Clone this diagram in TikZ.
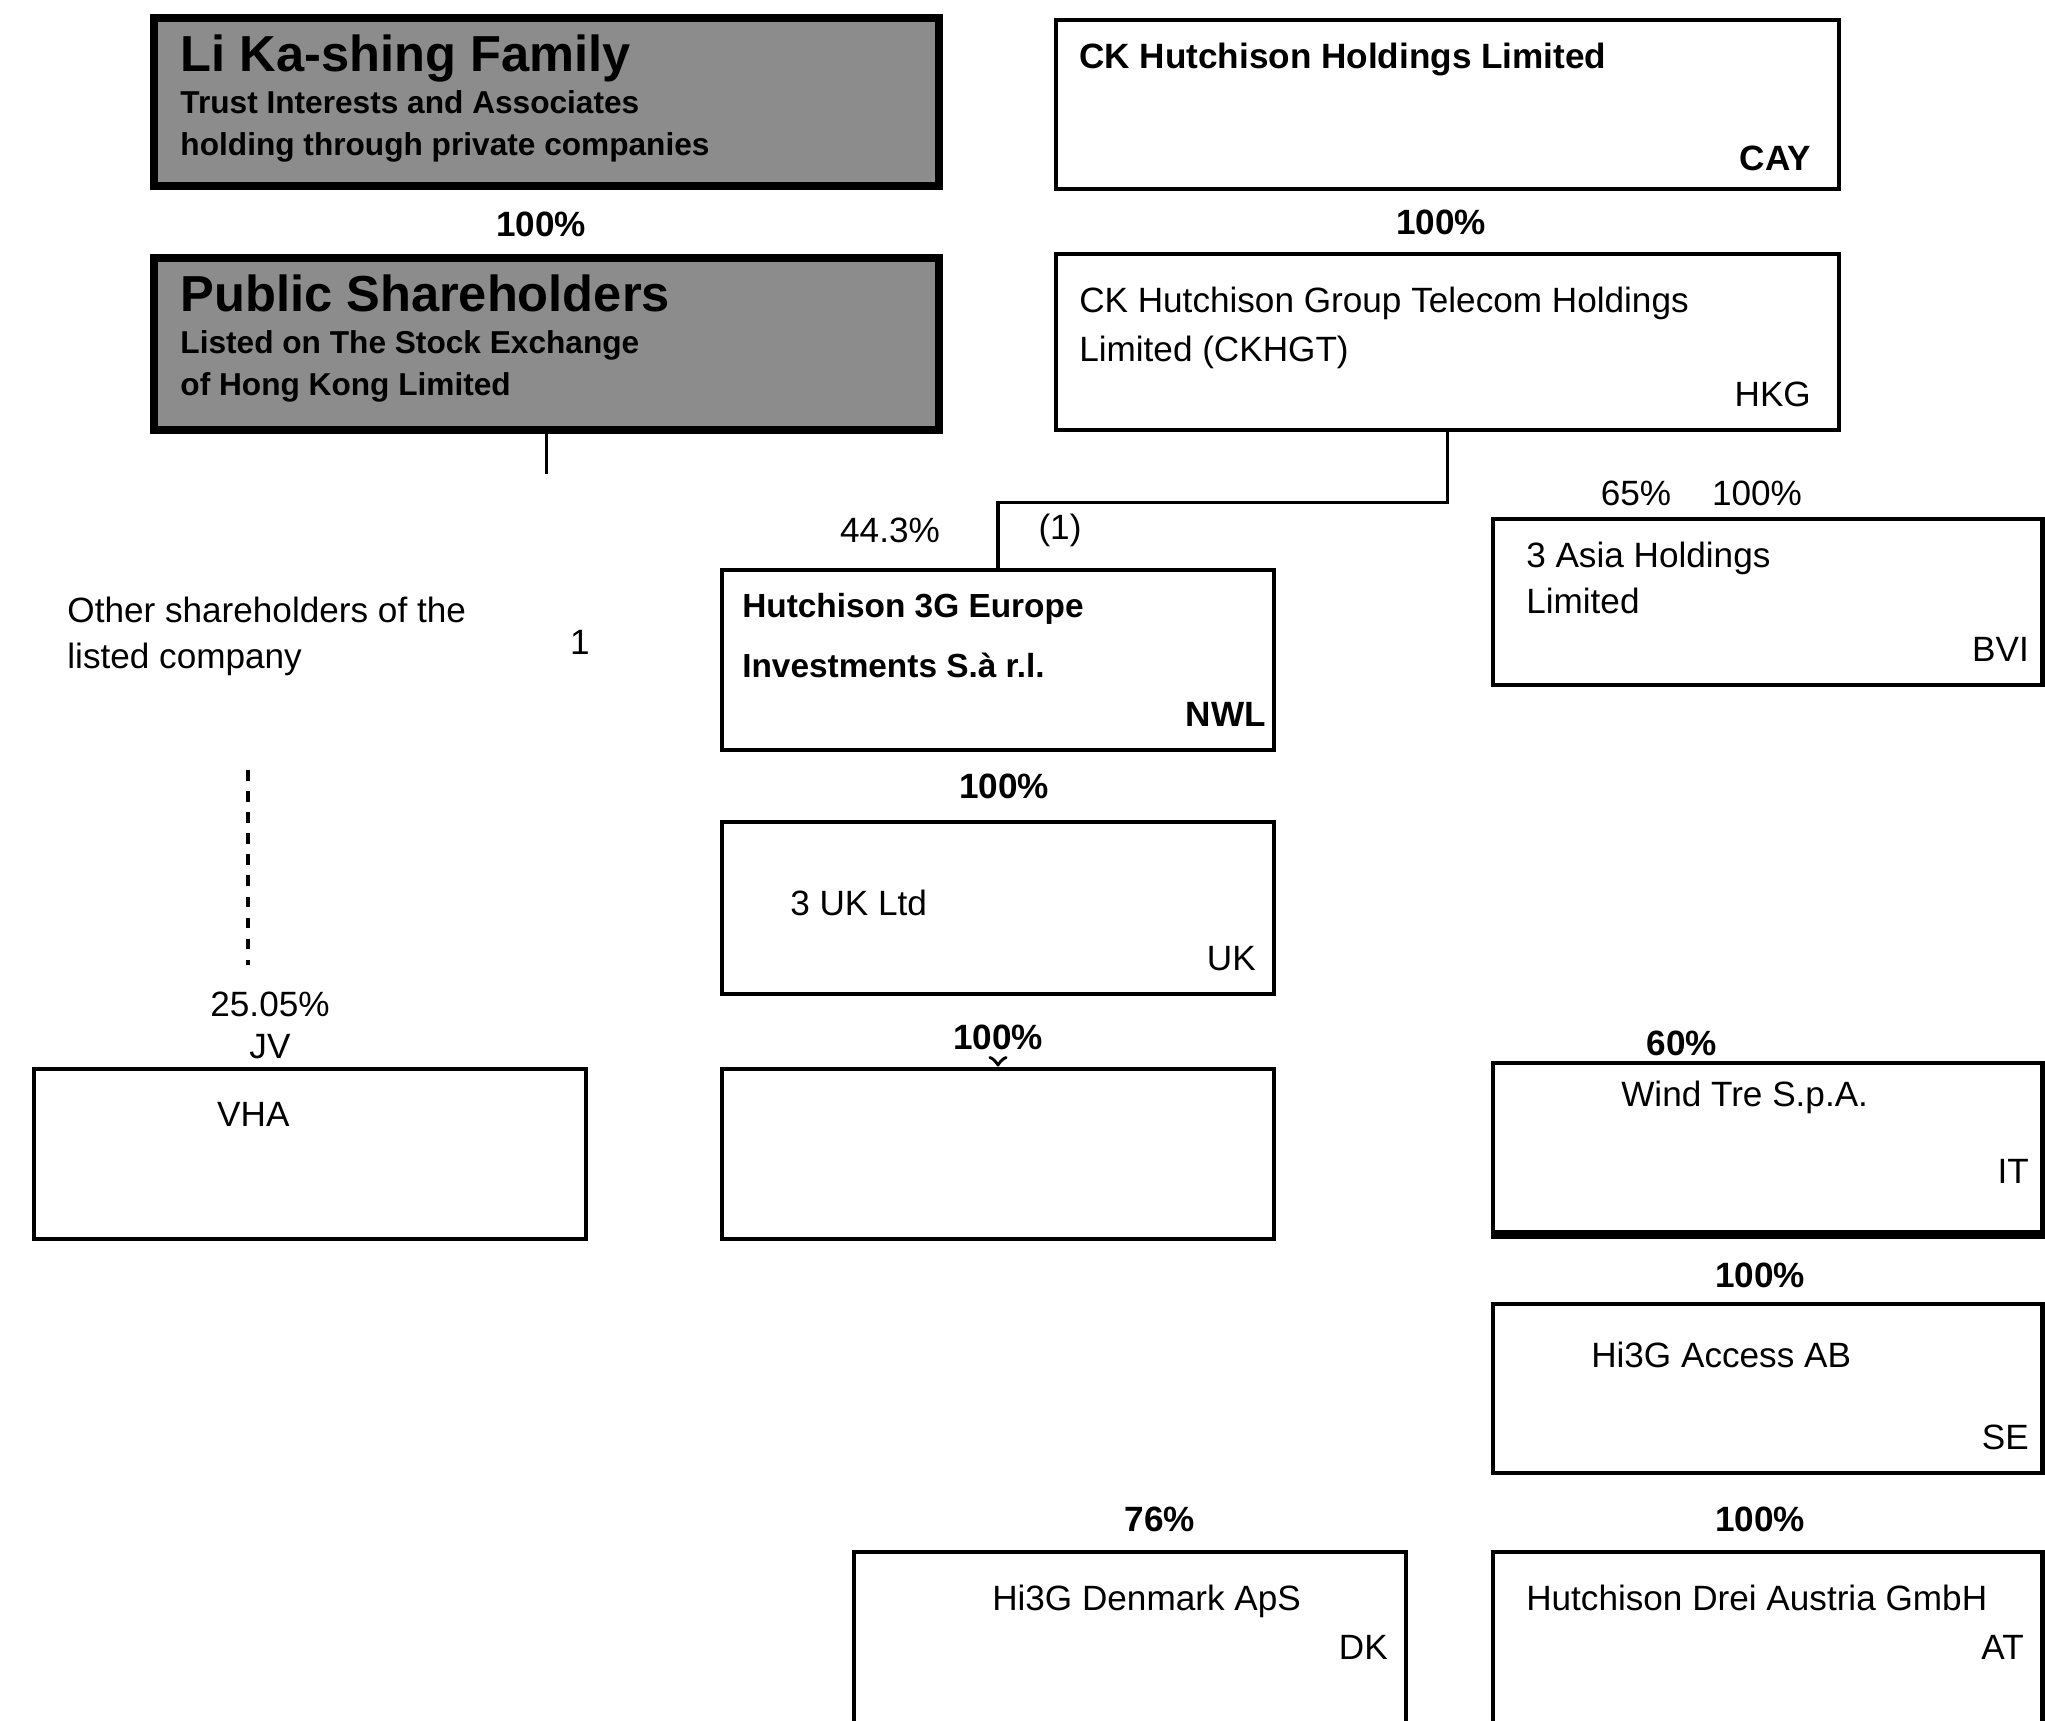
\documentclass[tikz,border=0pt]{standalone}
\usepackage{fontspec}
\setmainfont{Liberation Sans}
\begin{document}
\begin{tikzpicture}[
  box/.style={draw, line width=1.4pt, minimum width=5.52cm, minimum height=1.7cm, inner sep=0pt},
  widebox/.style={box, minimum width=7.85cm},
  greybox/.style={widebox, fill=black!45, line width=2.4pt},
  pct/.style={font=\bfseries\fontsize{10}{12}\selectfont},
  entity/.style={anchor=north west, align=left, inner sep=0pt, font=\bfseries\fontsize{10}{14}\selectfont},
  code/.style={anchor=south east, inner sep=0pt, font=\bfseries\fontsize{10}{12}\selectfont},
  link/.style={line width=1pt}
]
\clip (0,0) rectangle (20.45,17.2);

% top left, shaded
\node (a) [greybox, minimum height=1.68cm] at (5.465,16.18) {};
\node [entity, font=\bfseries\fontsize{9}{12}\selectfont] at ([shift={(0.3,-0.2)}]a.north west) {{\Large Li Ka-shing Family}\\ Trust Interests and Associates\\ holding through private companies};
\node (pAB) [pct] at (5.41,14.96) {100\%};
\node (b) [greybox, minimum height=1.72cm] at (5.465,13.76) {};
\node [entity, font=\bfseries\fontsize{9}{12}\selectfont] at ([shift={(0.3,-0.2)}]b.north west) {{\Large Public Shareholders}\\ Listed on The Stock Exchange\\ of Hong Kong Limited};
\coordinate (bend) at ([yshift=-0.4cm]b.south);
\draw[link] (b.south) -- (bend);

% top right
\node (c) [widebox, minimum width=7.83cm, minimum height=1.69cm] at (14.475,16.155) {};
\node [entity] at ([shift={(0.25,-0.25)}]c.north west) {CK Hutchison Holdings Limited};
\node [code] at ([shift={(-0.3,0.2)}]c.south east) {CAY};
\node (pCD) [pct] at (14.41,14.98) {100\%};
\node (d) [widebox, minimum width=7.83cm, minimum height=1.76cm] at (14.475,13.78) {};
\node [entity, font=\fontsize{10}{14}\selectfont] at ([shift={(0.25,-0.35)}]d.north west) {CK Hutchison Group Telecom Holdings\\ Limited (CKHGT)};
\node [code, font=\fontsize{10}{12}\selectfont] at ([shift={(-0.3,0.25)}]d.south east) {HKG};

% free text, left
\node (note) [anchor=north west, align=left, font=\fontsize{10}{13}\selectfont] at (0.55,11.35) {Other shareholders of the\\ listed company};
\node (mark) [font=\fontsize{10}{12}\selectfont] at (5.80,10.78) {1};

% middle column
\node (pDEa) [pct, font=\fontsize{10}{12}\selectfont] at (8.9,11.9) {44.3\%};
\node (pDEb) [pct, font=\fontsize{10}{12}\selectfont] at (10.6,11.9) {(1)};
\node (e) [box, minimum height=1.8cm] at (9.98,10.6) {};
\node [entity, font=\bfseries\fontsize{9.5}{17}\selectfont] at ([shift={(0.22,-0.25)}]e.north west) {Hutchison 3G Europe\\ Investments S.à r.l.};
\node [code] at ([shift={(-0.1,0.25)}]e.south east) {NWL};
\draw[link] (d.south) -- ++(0,-0.7) -| (e.north);
\node (pEG) [pct] at (10.04,9.34) {100\%};
\node (g) [box, minimum height=1.72cm] at (9.98,8.12) {};
\node [entity, anchor=west, font=\fontsize{10}{12}\selectfont] at ([shift={(0.7,0.05)}]g.west) {3 UK Ltd};
\node [code, font=\fontsize{10}{12}\selectfont] at ([shift={(-0.2,0.25)}]g.south east) {UK};
\node (pGH) [pct] at (9.98,6.83) {100\%};
\node (h) [box, minimum height=1.70cm] at (9.98,5.66) {};
\draw[link, ->] (pGH) -- (h);

% left column
\coordinate (ltop) at (2.48,9.5);
\coordinate (lbot) at (2.48,7.55);
\draw[link, dashed] (ltop) -- (lbot);
\node (pI) [pct, align=center, font=\fontsize{10}{12}\selectfont] at (2.70,6.95) {25.05\%\\ JV};
\node (i) [box, minimum height=1.70cm] at (3.10,5.66) {};
\node [entity, font=\fontsize{10}{12}\selectfont] at ([shift={(1.85,-0.35)}]i.north west) {VHA};

% right column
\node (pF1) [pct, font=\fontsize{10}{12}\selectfont] at (16.36,12.27) {65\%};
\node (pF2) [pct, font=\fontsize{10}{12}\selectfont] at (17.57,12.27) {100\%};
\node (f) [box, minimum width=5.49cm, minimum height=1.66cm] at (17.675,11.18) {};
\node [entity, font=\fontsize{10}{13}\selectfont] at ([shift={(0.35,-0.25)}]f.north west) {3 Asia Holdings\\ Limited};
\node [code, font=\fontsize{10}{12}\selectfont] at ([shift={(-0.15,0.25)}]f.south east) {BVI};

\node (pJ) [pct] at (16.82,6.77) {60\%};
\node (j) [box, minimum width=5.49cm, minimum height=1.69cm] at (17.675,5.725) {};
\draw[line width=2.4pt] (j.south west) -- (j.south east);
\node [entity, font=\fontsize{10}{12}\selectfont] at ([shift={(1.3,-0.2)}]j.north west) {Wind Tre S.p.A.};
\node [code, font=\fontsize{10}{12}\selectfont] at ([shift={(-0.15,0.5)}]j.south east) {IT};

\node (pK) [pct] at (17.60,4.45) {100\%};
\node (k) [box, minimum width=5.49cm, minimum height=1.69cm] at (17.675,3.315) {};
\node [entity, font=\fontsize{10}{12}\selectfont] at ([shift={(1.0,-0.4)}]k.north west) {Hi3G Access AB};
\node [code, font=\fontsize{10}{12}\selectfont] at ([shift={(-0.15,0.25)}]k.south east) {SE};

\node (pL) [pct] at (17.60,2.01) {100\%};
\node (l) [box, minimum width=5.49cm, minimum height=1.76cm] at (17.675,0.8) {};
\node [entity, font=\fontsize{10}{12}\selectfont] at ([shift={(0.35,-0.35)}]l.north west) {Hutchison Drei Austria GmbH};
\node [code, font=\fontsize{10}{12}\selectfont] at ([shift={(-0.2,0.7)}]l.south east) {AT};

% bottom middle
\node (pM) [pct] at (11.60,2.01) {76\%};
\node (m) [box, minimum height=1.76cm] at (11.30,0.8) {};
\node [entity, font=\fontsize{10}{12}\selectfont] at ([shift={(1.4,-0.35)}]m.north west) {Hi3G Denmark ApS};
\node [code, font=\fontsize{10}{12}\selectfont] at ([shift={(-0.2,0.7)}]m.south east) {DK};
\end{tikzpicture}
\end{document}
